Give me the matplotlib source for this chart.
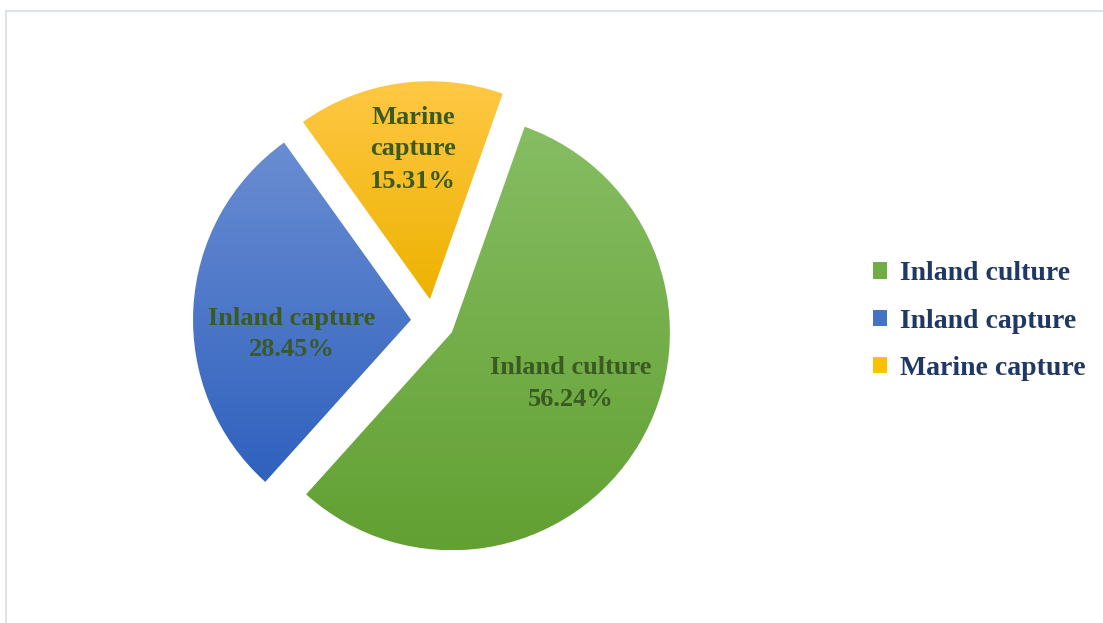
import matplotlib
matplotlib.use("Agg")
import matplotlib.pyplot as plt
from matplotlib.patches import Patch, Rectangle
from matplotlib.colors import to_rgb
import numpy as np

# data
categories = ["Inland culture", "Inland capture", "Marine capture"]
shares = [56.24, 28.45, 15.31]
label_text = ["Inland culture\n56.24%", "Inland capture\n28.45%", "Marine\ncapture\n15.31%"]

# top / bottom colours of each slice gradient
top_colors = ["#86BD63", "#6A8DD2", "#FFC845"]
bottom_colors = ["#62A032", "#2F61BE", "#EDB200"]
legend_colors = ["#70AD47", "#4472C4", "#FFC000"]

W, H = 1103, 623
fig = plt.figure(figsize=(W / 100, H / 100), dpi=100)
ax = fig.add_axes([0, 0, 1, 1])

center = (433, H - 321)
radius = 218

# explode is in data units here (pixels), ~0.1 of the radius
wedges, _ = ax.pie(shares, explode=[22, 22, 22], startangle=90 - 19.5,
                   counterclock=False, center=center, radius=radius,
                   wedgeprops=dict(linewidth=0))

# fill each wedge with a vertical gradient clipped to its shape
for w, c_top, c_bot in zip(wedges, top_colors, bottom_colors):
    w.set_facecolor("none")
    ext = w.get_path().get_extents()
    t = np.linspace(0, 1, 256)[:, None]
    grad = (1 - t) * np.array(to_rgb(c_top)) + t * np.array(to_rgb(c_bot))
    grad = grad[:, None, :]
    im = ax.imshow(grad, extent=[ext.x0, ext.x1, ext.y0, ext.y1], origin="upper",
                   aspect="auto", interpolation="bilinear", zorder=1)
    im.set_clip_path(w)

# slice labels
label_pos = [(571, 383), (292, 334), (413, 149)]
for txt, (x, y) in zip(label_text, label_pos):
    ax.text(x, H - y, txt, ha="center", va="center", multialignment="center",
            fontsize=19, fontweight="bold", family="Liberation Serif",
            color="#3B5A22", linespacing=1.5, zorder=3)

handles = [Patch(facecolor=c, edgecolor="none") for c in legend_colors]
leg = ax.legend(handles, categories, loc="center left",
                bbox_to_anchor=(873 / W, (H - 321) / H), bbox_transform=fig.transFigure,
                frameon=False, borderpad=0, borderaxespad=0,
                handlelength=0.52, handleheight=0.52, handletextpad=0.45,
                labelspacing=0.8,
                prop=dict(family="Liberation Serif", weight="bold", size=20))
for t in leg.get_texts():
    t.set_color("#1F3864")

# thin chart border (only top and left visible)
ax.add_patch(Rectangle((6, -10), W + 20, H - 11 + 10, fill=False,
                       edgecolor="#DDE2E7", linewidth=1.5, zorder=0))

ax.set_xlim(0, W)
ax.set_ylim(0, H)
ax.set_aspect("auto")
ax.axis("off")

fig.savefig("out.png", dpi=100)
